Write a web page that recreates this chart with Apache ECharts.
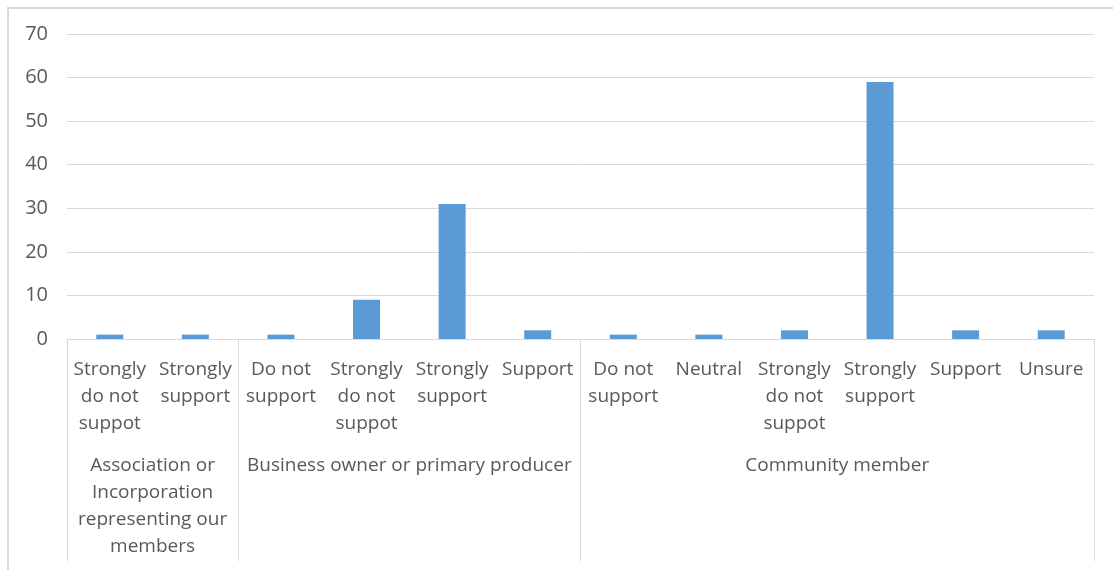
<!DOCTYPE html>
<html>
<head>
<meta charset="utf-8">
<script src="https://cdn.jsdelivr.net/npm/echarts@6/dist/echarts.min.js"></script>
<style>
html,body{margin:0;padding:0;background:#fff;}
#frame{position:absolute;left:7px;top:7px;width:1106px;height:563px;border-top:2px solid #d9d9d9;border-left:2px solid #d9d9d9;box-sizing:border-box;}
#chart{position:absolute;left:0;top:0;width:1113px;height:570px;}
</style>
</head>
<body>
<div id="frame"></div>
<div id="chart"></div>
<script>
const categories = [
  "Strongly\ndo not\nsuppot", "Strongly\nsupport",
  "Do not\nsupport", "Strongly\ndo not\nsuppot", "Strongly\nsupport", "Support",
  "Do not\nsupport", "Neutral", "Strongly\ndo not\nsuppot", "Strongly\nsupport", "Support", "Unsure"
];
const values = [1, 1, 1, 9, 31, 2, 1, 1, 2, 59, 2, 2];
const groupLabels = [
  "Association or\nIncorporation\nrepresenting our\nmembers",
  "Business owner or primary producer",
  "Community member"
];
const groupSizes = [2, 4, 6];
const yTicks = [0, 10, 20, 30, 40, 50, 60, 70];

const boundaries = [0];
const centers = [];
groupSizes.forEach(s => {
  const start = boundaries[boundaries.length - 1];
  centers.push(start + s / 2);
  boundaries.push(start + s);
});

const txt = '#595959';
const font = 'Open Sans';
const chart = echarts.init(document.getElementById('chart'));
chart.setOption({
  animation: false,
  textStyle: { fontFamily: font },
  grid: { left: 67, right: 19, top: 34, bottom: 231 },
  yAxis: {
    type: 'value',
    min: yTicks[0], max: yTicks[yTicks.length - 1], interval: 10,
    axisLine: { show: false }, axisTick: { show: false },
    splitLine: { lineStyle: { color: '#d9d9d9', width: 1 } },
    axisLabel: { color: txt, fontSize: 20, fontFamily: font, margin: 19 }
  },
  xAxis: [
    {
      type: 'category', data: categories,
      axisLine: { lineStyle: { color: '#d9d9d9', width: 1 } },
      axisTick: { show: false },
      axisLabel: { color: txt, fontSize: 19, fontFamily: font, lineHeight: 27, margin: 17, interval: 0, verticalAlign: 'top' }
    },
    {
      type: 'value', min: 0, max: categories.length, position: 'bottom', offset: 0,
      axisLine: { show: false },
      splitLine: { show: false },
      axisTick: { show: true, customValues: boundaries, length: 222, inside: false, lineStyle: { color: '#d9d9d9', width: 1 } },
      axisLabel: {
        customValues: centers, color: txt, fontSize: 19, fontFamily: font, lineHeight: 27, margin: 113,
        verticalAlign: 'top', align: 'center',
        formatter: v => { const i = centers.indexOf(v); return i >= 0 ? groupLabels[i] : ''; }
      }
    }
  ],
  series: [{
    type: 'bar', xAxisIndex: 0, data: values, barWidth: 27,
    itemStyle: { color: '#5b9bd5' }
  }]
});
</script>
</body>
</html>
